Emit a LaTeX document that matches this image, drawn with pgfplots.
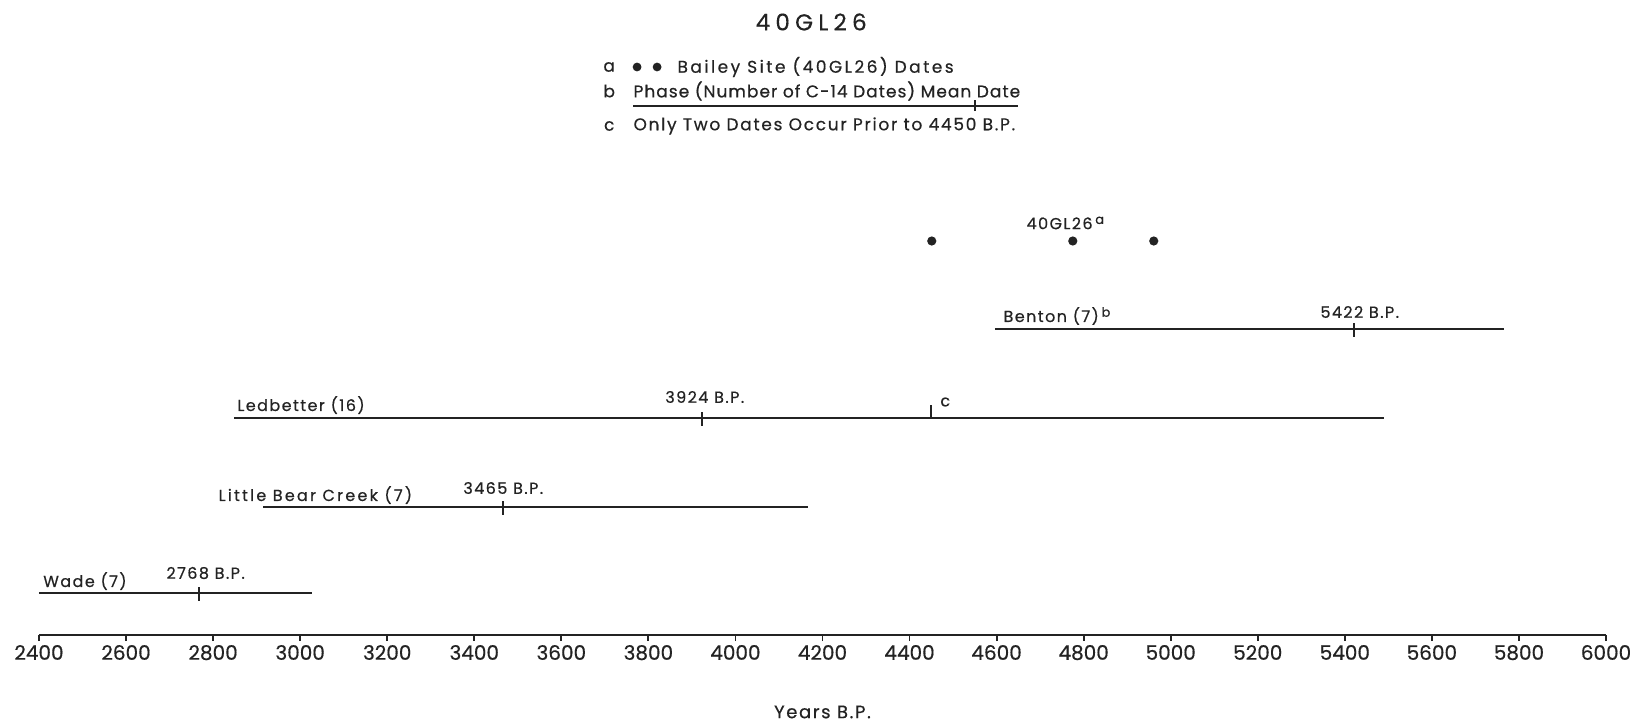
\documentclass[border=0pt]{standalone}
\usepackage{pgfplots}
\pgfplotsset{compat=1.18}
\usepackage{fontspec}
\setmainfont{Poppins}[FakeBold=0.5]
\newfontfamily\lbl{Poppins}[LetterSpace=9, FakeBold=0.5]
\newfontfamily\lblw{Poppins}[LetterSpace=14, FakeBold=0.5]
\newfontfamily\leg{Poppins}[LetterSpace=6, FakeBold=0.5]
\newfontfamily\legm{Poppins}[LetterSpace=10, FakeBold=0.5]
\newfontfamily\legw{Poppins}[LetterSpace=14.5, FakeBold=0.5]
\newfontfamily\ttl{Poppins}[LetterSpace=23, FakeBold=0.4]
\definecolor{ink}{RGB}{35,35,35}
\begin{document}
\begin{tikzpicture}[x=1pt,y=1pt]
\useasboundingbox (-19.5pt,-45pt) rectangle (806.5pt,317.5pt);
\begin{axis}[
  at={(0pt,0pt)}, anchor=south west,
  scale only axis,
  width=783.5pt, height=317.5pt,
  xmin=2400, xmax=6000, ymin=0, ymax=635,
  axis x line*=bottom, axis y line=none,
  clip=false,
  xtick={2400,2600,...,6000},
  tick align=outside,
  major tick length=3pt,
  x axis line style={line width=1.1pt, ink},
  every tick/.style={line width=0.9pt, ink},
  /pgf/number format/assume math mode=true,
  /pgf/number format/1000 sep={},
  xticklabel style={font=\fontsize{10}{11}\selectfont, text=ink, yshift=1.5pt},
  xlabel={Years B.P.},
  xlabel style={font=\lbl\fontsize{9}{10}\selectfont, text=ink, at={(axis description cs:0.5,0)}, anchor=center, yshift=-38.5pt},
  every axis plot/.append style={ink, line width=1.3pt},
]
% phase ranges
\addplot[no marks] coordinates {(2400,42) (3027,42)};
\addplot[no marks] coordinates {(2915,128) (4167,128)};
\addplot[no marks] coordinates {(2848,217) (5490,217)};
\addplot[no marks] coordinates {(4596,306) (5765,306)};
% mean dates
\addplot[only marks, mark=|, mark size=3.5pt, mark options={line width=1pt}] coordinates {(2768,41) (3465,127) (3924,216) (5422,305)};
% c tick
\addplot[no marks, line width=1pt] coordinates {(4450,217) (4450,230)};
% Bailey dates
\addplot[only marks, mark=*, mark size=1.6pt] coordinates {(4451,394) (4775,394) (4961,394)};
% legend samples
\addplot[only marks, mark=*, mark size=1.5pt] coordinates {(3774,568) (3820,568)};
\addplot[no marks, line width=1.1pt] coordinates {(3765,529) (4649,529)};
\addplot[no marks, line width=0.9pt] coordinates {(4550,524) (4550,535)};

\begin{scope}[every node/.style={text=ink, inner sep=0pt}]
\node[font=\ttl\fontsize{11.5}{12}\selectfont] at (axis cs:4174,613) {40GL26};
\node[font=\leg\fontsize{8.5}{9}\selectfont] at (axis cs:3710,568) {a};
\node[font=\legw\fontsize{8.5}{9}\selectfont, anchor=west] at (axis cs:3866,568) {Bailey Site (40GL26) Dates};
\node[font=\leg\fontsize{8.5}{9}\selectfont] at (axis cs:3710,544) {b};
\node[font=\leg\fontsize{8.5}{9}\selectfont, anchor=west] at (axis cs:3765,544) {Phase (Number of C-14 Dates) Mean Date};
\node[font=\leg\fontsize{8.5}{9}\selectfont] at (axis cs:3710,509) {c};
\node[font=\legm\fontsize{8.5}{9}\selectfont, anchor=west] at (axis cs:3765,509) {Only Two Dates Occur Prior to 4450 B.P.};

\node[font=\lbl\fontsize{8}{9}\selectfont, anchor=west] at (axis cs:2409,54) {Wade (7)};
\node[font=\lbl\fontsize{8}{9}\selectfont, anchor=west] at (axis cs:2692,62) {2768 B.P.};
\node[font=\lblw\fontsize{8}{9}\selectfont, anchor=west] at (axis cs:2812,140) {Little Bear Creek (7)};
\node[font=\lbl\fontsize{8}{9}\selectfont, anchor=west] at (axis cs:3374,147) {3465 B.P.};
\node[font=\lbl\fontsize{8}{9}\selectfont, anchor=west] at (axis cs:2855,230) {Ledbetter (16)};
\node[font=\lbl\fontsize{8}{9}\selectfont, anchor=west] at (axis cs:3838,238) {3924 B.P.};
\node[font=\lbl\fontsize{8}{9}\selectfont, anchor=west] at (axis cs:4470,233) {c};
\node[font=\lbl\fontsize{8}{9}\selectfont, anchor=west] at (axis cs:4615,319) {Benton (7)\,\raisebox{0.6ex}{\fontsize{6.5}{7}\selectfont b}};
\node[font=\lbl\fontsize{8}{9}\selectfont, anchor=west] at (axis cs:5343,323) {5422 B.P.};
\node[font=\lbl\fontsize{8}{9}\selectfont, anchor=west] at (axis cs:4668,412) {40GL26\,\raisebox{0.6ex}{\fontsize{6.5}{7}\selectfont a}};
\end{scope}
\end{axis}
\end{tikzpicture}
\end{document}
